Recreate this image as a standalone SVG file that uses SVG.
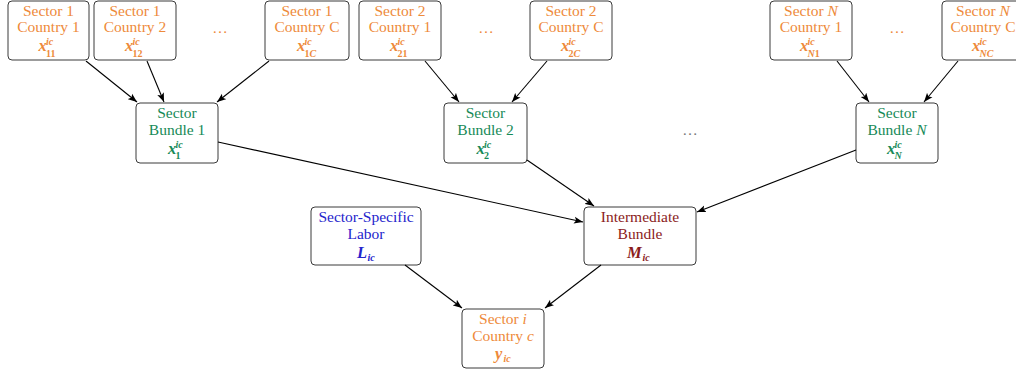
<svg xmlns="http://www.w3.org/2000/svg" width="1016" height="375" viewBox="0 0 1016 375">
  <style>
    .box { fill: #ffffff; stroke: #3a3a3a; stroke-width: 1; }
    text { font-family: "Liberation Serif", "Times New Roman", serif; font-size: 15.5px; text-anchor: middle; }
    .m { font-weight: bold; font-style: italic; text-anchor: start; font-size: 16.5px; }
    .s { font-size: 10px; }
    .d { font-weight: bold; font-style: normal; }
    .it { font-style: italic; }
    .org { fill: #ee8a3a; }
    .grn { fill: #178a58; }
    .blu { fill: #2424cc; }
    .red { fill: #8b1c1c; }
    .dots { fill: #777777; }
    .edge { stroke: #000000; stroke-width: 1.1; fill: none; marker-end: url(#arr); }
  </style>
  <defs>
    <marker id="arr" markerUnits="userSpaceOnUse" markerWidth="10" markerHeight="8" refX="9" refY="4" orient="auto">
      <path d="M0,0.5 L9,4 L0,7.5 L2,4 Z" fill="#000000"/>
    </marker>
  </defs>

  <!-- sector-country inputs, top row -->
  <g id="s1c1">
    <rect class="box" x="8" y="1" width="81" height="59" rx="4"/>
    <text class="org" x="48.5" y="16">Sector 1</text>
    <text class="org" x="48.5" y="32">Country 1</text>
    <text class="org m" x="38.5" y="51">x</text>
    <text class="org m s" x="46" y="45">ic</text>
    <text class="org m s d" x="46" y="56.5">11</text>
  </g>
  <g id="s1c2">
    <rect class="box" x="94" y="1" width="82" height="59" rx="4"/>
    <text class="org" x="135" y="16">Sector 1</text>
    <text class="org" x="135" y="32">Country 2</text>
    <text class="org m" x="125" y="51">x</text>
    <text class="org m s" x="132.5" y="45">ic</text>
    <text class="org m s d" x="132.5" y="56.5">12</text>
  </g>
  <text class="org" x="220" y="33">…</text>
  <g id="s1cC">
    <rect class="box" x="265" y="1" width="84" height="59" rx="4"/>
    <text class="org" x="307" y="16">Sector 1</text>
    <text class="org" x="307" y="32">Country C</text>
    <text class="org m" x="297" y="51">x</text>
    <text class="org m s" x="304.5" y="45">ic</text>
    <text class="org m s" x="304.5" y="56.5"><tspan class="d">1</tspan>C</text>
  </g>
  <g id="s2c1">
    <rect class="box" x="359" y="1" width="82" height="59" rx="4"/>
    <text class="org" x="400" y="16">Sector 2</text>
    <text class="org" x="400" y="32">Country 1</text>
    <text class="org m" x="390" y="51">x</text>
    <text class="org m s" x="397.5" y="45">ic</text>
    <text class="org m s d" x="397.5" y="56.5">21</text>
  </g>
  <text class="org" x="486" y="33">…</text>
  <g id="s2cC">
    <rect class="box" x="530" y="1" width="82" height="59" rx="4"/>
    <text class="org" x="571" y="16">Sector 2</text>
    <text class="org" x="571" y="32">Country C</text>
    <text class="org m" x="561" y="51">x</text>
    <text class="org m s" x="568.5" y="45">ic</text>
    <text class="org m s" x="568.5" y="56.5"><tspan class="d">2</tspan>C</text>
  </g>
  <g id="sNc1">
    <rect class="box" x="770" y="1" width="82" height="59" rx="4"/>
    <text class="org" x="811" y="16">Sector <tspan class="it">N</tspan></text>
    <text class="org" x="811" y="32">Country 1</text>
    <text class="org m" x="800" y="51">x</text>
    <text class="org m s" x="807.5" y="45">ic</text>
    <text class="org m s" x="807.5" y="56.5">N<tspan class="d">1</tspan></text>
  </g>
  <text class="org" x="897" y="33">…</text>
  <g id="sNcC">
    <rect class="box" x="942" y="1" width="82" height="59" rx="4"/>
    <text class="org" x="983" y="16">Sector <tspan class="it">N</tspan></text>
    <text class="org" x="983" y="32">Country C</text>
    <text class="org m" x="972" y="51">x</text>
    <text class="org m s" x="979.5" y="45">ic</text>
    <text class="org m s" x="979.5" y="56.5">NC</text>
  </g>

  <!-- sector bundles, middle row -->
  <g id="bundle1">
    <rect class="box" x="136" y="103" width="82" height="60" rx="4"/>
    <text class="grn" x="177" y="118">Sector</text>
    <text class="grn" x="177" y="135">Bundle 1</text>
    <text class="grn m" x="168" y="154">x</text>
    <text class="grn m s" x="175.5" y="148">ic</text>
    <text class="grn m s d" x="175.5" y="159">1</text>
  </g>
  <g id="bundle2">
    <rect class="box" x="444" y="103" width="83" height="60" rx="4"/>
    <text class="grn" x="485.5" y="118">Sector</text>
    <text class="grn" x="485.5" y="135">Bundle 2</text>
    <text class="grn m" x="476.5" y="154">x</text>
    <text class="grn m s" x="484" y="148">ic</text>
    <text class="grn m s d" x="484" y="159">2</text>
  </g>
  <text class="dots" x="690" y="135">…</text>
  <g id="bundleN">
    <rect class="box" x="856" y="103" width="82" height="60" rx="4"/>
    <text class="grn" x="897" y="118">Sector</text>
    <text class="grn" x="897" y="135">Bundle <tspan class="it">N</tspan></text>
    <text class="grn m" x="887" y="154">x</text>
    <text class="grn m s" x="894.5" y="148">ic</text>
    <text class="grn m s" x="894.5" y="159">N</text>
  </g>

  <!-- labor and intermediate inputs -->
  <g id="labor">
    <rect class="box" x="311" y="207" width="110" height="58" rx="4"/>
    <text class="blu" x="366" y="222">Sector-Specific</text>
    <text class="blu" x="366" y="239">Labor</text>
    <text class="blu m" x="357" y="258">L</text>
    <text class="blu m s" x="367.5" y="261">ic</text>
  </g>
  <g id="intermediate">
    <rect class="box" x="584" y="207" width="112" height="58" rx="4"/>
    <text class="red" x="640" y="222">Intermediate</text>
    <text class="red" x="640" y="239">Bundle</text>
    <text class="red m" x="627" y="258">M</text>
    <text class="red m s" x="642.5" y="261">ic</text>
  </g>

  <!-- sector output -->
  <g id="output">
    <rect class="box" x="462" y="309" width="82" height="59" rx="4"/>
    <text class="org" x="503" y="324">Sector <tspan class="it">i</tspan></text>
    <text class="org" x="503" y="341">Country <tspan class="it">c</tspan></text>
    <text class="org m" x="495" y="359">y</text>
    <text class="org m s" x="503.5" y="362">ic</text>
  </g>

  <!-- connectors -->
  <g id="edges">
    <line class="edge" x1="86" y1="61" x2="137" y2="102"/>
    <line class="edge" x1="147" y1="61" x2="164" y2="102"/>
    <line class="edge" x1="269" y1="61" x2="217" y2="102"/>
    <line class="edge" x1="425" y1="61" x2="459" y2="102"/>
    <line class="edge" x1="547" y1="61" x2="512" y2="102"/>
    <line class="edge" x1="837" y1="61" x2="869" y2="102"/>
    <line class="edge" x1="958" y1="61" x2="924" y2="102"/>
    <line class="edge" x1="218" y1="142" x2="583" y2="222"/>
    <line class="edge" x1="527" y1="160" x2="594" y2="206"/>
    <line class="edge" x1="856" y1="150" x2="697" y2="212"/>
    <line class="edge" x1="405" y1="265" x2="462" y2="308"/>
    <line class="edge" x1="601" y1="265" x2="545" y2="308"/>
  </g>
</svg>
